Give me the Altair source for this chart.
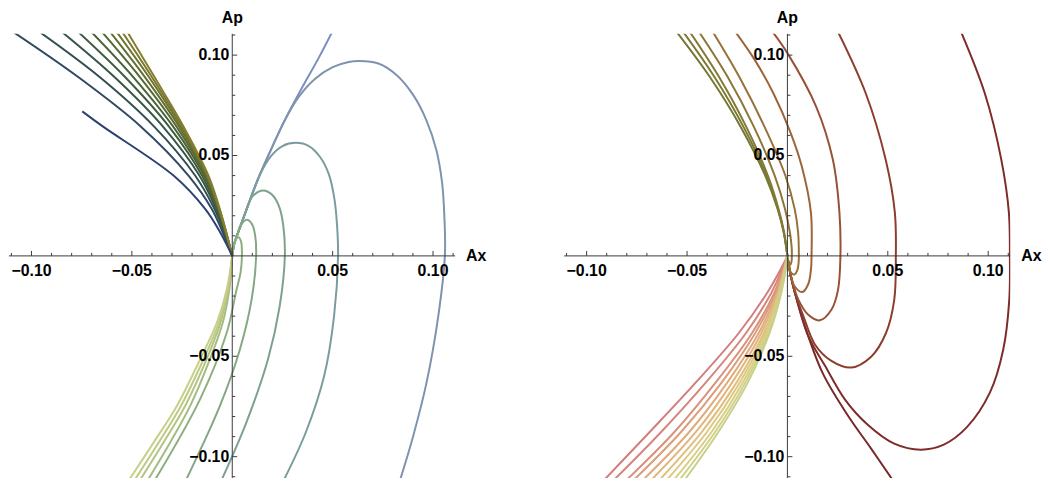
import altair as alt
import pandas as pd

XMIN, XMAX = -0.1112, 0.1110
YMIN, YMAX = -0.1106, 0.1106

# ---------------- LEFT PANEL ----------------
# upper-left family: Ax read at shared Ap levels
LU_AP = [0.112, 0.0892, 0.0645, 0.0399, 0.0234, 0.0119, 0.0]
LU_AX = [
    [-0.1098, -0.0769, -0.0456, -0.0217, -0.0102, -0.0048, 0.0],
    [-0.0966, -0.0662, -0.0390, -0.0184, -0.0089, -0.0041, 0.0],
    [-0.0854, -0.0588, -0.0346, -0.0163, -0.0081, -0.0038, 0.0],
    [-0.0772, -0.0535, -0.0316, -0.0150, -0.0076, -0.0036, 0.0],
    [-0.0706, -0.0494, -0.0295, -0.0140, -0.0072, -0.0034, 0.0],
    [-0.0653, -0.0461, -0.0278, -0.0133, -0.0069, -0.0033, 0.0],
    [-0.0612, -0.0436, -0.0265, -0.0128, -0.0067, -0.0033, 0.0],
    [-0.0579, -0.0416, -0.0257, -0.0125, -0.0066, -0.0031, 0.0],
    [-0.0551, -0.0401, -0.0250, -0.0122, -0.0064, -0.0031, 0.0],
    [-0.0525, -0.0388, -0.0243, -0.0118, -0.0062, -0.0030, 0.0],
]
C1_AX = [-0.0747, -0.0645, -0.0291, -0.0135, -0.0061, 0.0]
C1_AP = [0.0720, 0.0645, 0.0399, 0.0234, 0.0119, 0.0]

# lower-left family (yellow)
LL_AP = [-0.1116, -0.0927, -0.0746, -0.0532, -0.0334, -0.0170, 0.0]
LL_AX = [
    [-0.0420, -0.0308, -0.0209, -0.0118, -0.0048, -0.0015, 0.0],
    [-0.0459, -0.0341, -0.0234, -0.0135, -0.0059, -0.0020, 0.0],
    [-0.0486, -0.0365, -0.0255, -0.0151, -0.0067, -0.0023, 0.0],
    [-0.0514, -0.0390, -0.0275, -0.0168, -0.0077, -0.0028, 0.0],
]

# loops of the left panel
L0_AX = [0.0, 0.0010, 0.0036, 0.0078, 0.0135, 0.0201, 0.0267, 0.0355, 0.0430, 0.0500]
L0_AP = [0.0, 0.0060, 0.0135, 0.0250, 0.0399, 0.0547, 0.0687, 0.0851, 0.0985, 0.1120]
L1_AX = [0.0, 0.0010, 0.0036, 0.0078, 0.0135, 0.0201, 0.0259, 0.0330, 0.0410, 0.0500, 0.0580, 0.0634,
         0.0728, 0.0818, 0.0901, 0.0966, 0.1016, 0.1045, 0.1057, 0.1059, 0.1026, 0.0968, 0.0902, 0.0836]
L1_AP = [0.0, 0.0060, 0.0135, 0.0250, 0.0399, 0.0547, 0.0670, 0.0790, 0.0880, 0.0940, 0.0966, 0.0971,
         0.0958, 0.0901, 0.0802, 0.0678, 0.0530, 0.0366, 0.0185, 0.0, -0.0301, -0.0630, -0.0894, -0.1116]
L2_AX = [0.0, 0.0010, 0.0036, 0.0078, 0.0135, 0.0193, 0.0250, 0.0316, 0.0382, 0.0440, 0.0481,
         0.0509, 0.0522, 0.0527, 0.0507, 0.0458, 0.0367, 0.0257]
L2_AP = [0.0, 0.0060, 0.0135, 0.0250, 0.0399, 0.0497, 0.0547, 0.0563, 0.0547, 0.0489, 0.0407,
         0.0283, 0.0152, 0.0, -0.0301, -0.0597, -0.0877, -0.1116]
L3_AX = [0.0, 0.0010, 0.0036, 0.0068, 0.0100, 0.0155, 0.0201, 0.0234, 0.0254, 0.0262,
         0.0236, 0.0178, 0.0071, -0.0053]
L3_AP = [0.0, 0.0060, 0.0135, 0.0222, 0.0295, 0.0326, 0.0302, 0.0244, 0.0152, 0.0,
         -0.0252, -0.0515, -0.0828, -0.1116]
L4_AX = [0.0, 0.0010, 0.0022, 0.0040, 0.0073, 0.0099, 0.0114, 0.0119, 0.0096, 0.0038, -0.0061, -0.0230]
L4_AP = [0.0, 0.0060, 0.0095, 0.0150, 0.0180, 0.0157, 0.0102, 0.0, -0.0219, -0.0466, -0.0746, -0.1116]
L5_AX = [0.0, 0.0010, 0.0020, 0.0032, 0.0043, 0.0048, 0.0042, 0.0021, -0.0028, -0.0160, -0.0385]
L5_AP = [0.0, 0.0060, 0.0085, 0.0093, 0.0075, 0.0030, -0.0080, -0.0170, -0.0384, -0.0713, -0.1116]

# ---------------- RIGHT PANEL ----------------
RU_AP = [0.112, 0.0892, 0.0645, 0.0399, 0.0234, 0.0119, 0.0]
RU_AX = [
    [-0.0555, -0.0387, -0.0234, -0.0110, -0.0049, -0.0019, 0.0],
    [-0.0522, -0.0364, -0.0220, -0.0104, -0.0047, -0.0018, 0.0],
    [-0.0489, -0.0341, -0.0206, -0.0097, -0.0044, -0.0017, 0.0],
]
RL_AP = [-0.1116, -0.0877, -0.0630, -0.0384, -0.0186, -0.0071, 0.0]
RL_AX = [
    [-0.0913, -0.0686, -0.0456, -0.0242, -0.0102, -0.0036, 0.0],
    [-0.0864, -0.0629, -0.0406, -0.0206, -0.0081, -0.0028, 0.0],
    [-0.0801, -0.0563, -0.0357, -0.0176, -0.0066, -0.0023, 0.0],
    [-0.0765, -0.0530, -0.0327, -0.0160, -0.0059, -0.0020, 0.0],
    [-0.0719, -0.0489, -0.0299, -0.0143, -0.0053, -0.0018, 0.0],
    [-0.0678, -0.0456, -0.0275, -0.0130, -0.0048, -0.0016, 0.0],
    [-0.0637, -0.0426, -0.0253, -0.0118, -0.0043, -0.0015, 0.0],
    [-0.0601, -0.0401, -0.0237, -0.0110, -0.0039, -0.0013, 0.0],
    [-0.0566, -0.0378, -0.0222, -0.0102, -0.0036, -0.0011, 0.0],
    [-0.0538, -0.0360, -0.0209, -0.0095, -0.0033, -0.0010, 0.0],
    [-0.0512, -0.0344, -0.0197, -0.0089, -0.0031, -0.0010, 0.0],
]
R0_AX = [0.0, 0.0015, 0.0038, 0.0104, 0.0178, 0.0301, 0.0417, 0.0524]
R0_AP = [0.0, -0.0090, -0.0186, -0.0400, -0.0589, -0.0795, -0.0960, -0.1116]
R1_AX = [0.0, 0.0015, 0.0038, 0.0104, 0.0186, 0.0285, 0.0400, 0.0532, 0.0664, 0.0779, 0.0894,
         0.1009, 0.1075, 0.1105, 0.1108, 0.1103, 0.1065, 0.0983, 0.0863]
R1_AP = [0.0, -0.0090, -0.0186, -0.0400, -0.0545, -0.0713, -0.0841, -0.0935, -0.0965, -0.0940, -0.0853,
         -0.0680, -0.0466, -0.0219, 0.0, 0.0217, 0.0481, 0.0810, 0.1120]
R2_AX = [0.0, 0.0015, 0.0038, 0.0079, 0.0137, 0.0219, 0.0318, 0.0417, 0.0491, 0.0532, 0.0540,
         0.0535, 0.0489, 0.0390, 0.0250]
R2_AP = [0.0, -0.0090, -0.0186, -0.0298, -0.0441, -0.0523, -0.0556, -0.0502, -0.0384, -0.0219, 0.0,
         0.0217, 0.0481, 0.0810, 0.1120]
R3_AX = [0.0, 0.0015, 0.0055, 0.0104, 0.0161, 0.0219, 0.0252, 0.0264, 0.0259, 0.0226, 0.0143, 0.0, -0.0077]
R3_AP = [0.0, -0.0090, -0.0219, -0.0293, -0.0321, -0.0268, -0.0169, 0.0, 0.0217, 0.0481, 0.0744, 0.1010, 0.1120]
R4_AX = [0.0, 0.0012, 0.0035, 0.0074, 0.0104, 0.0118, 0.0120, 0.0117, 0.0071, 0.0016, -0.0070, -0.0162, -0.0262]
R4_AP = [0.0, -0.0072, -0.0150, -0.0180, -0.0140, -0.0060, 0.0, 0.0217, 0.0448, 0.0613, 0.0810, 0.0975, 0.1120]
R5_AX = [0.0, 0.0008, 0.0022, 0.0036, 0.0050, 0.0056, 0.0057, 0.0053, 0.0036, -0.0010, -0.0115, -0.0240, -0.0374]
R5_AP = [0.0, -0.0060, -0.0088, -0.0092, -0.0070, -0.0030, 0.0, 0.0119, 0.0234, 0.0399, 0.0645, 0.0892, 0.1120]
R6_AX = [0.0, 0.0005, 0.0013, 0.0020, 0.0022, 0.0021, 0.0012, -0.0012, -0.0063, -0.0168, -0.0298, -0.0443]
R6_AP = [0.0, -0.0032, -0.0045, -0.0030, 0.0, 0.0045, 0.0119, 0.0234, 0.0399, 0.0645, 0.0892, 0.1120]

# ---------------- TICKS ----------------
MAJOR = [-0.10, -0.05, 0.05, 0.10]
MAJOR_LABELS = ["\u22120.10", "\u22120.05", "0.05", "0.10"]
MINOR = [-0.11, -0.09, -0.08, -0.07, -0.06, -0.04, -0.03, -0.02, -0.01,
         0.01, 0.02, 0.03, 0.04, 0.06, 0.07, 0.08, 0.09, 0.11]

# ---------------- COLOURS ----------------
LU_COLORS = ["#2f4a62", "#324f52", "#375646", "#3f5c3e", "#4a6238", "#566834",
             "#626e31", "#6e7430", "#7a792f", "#857e30"]
C1_COLOR = "#2d4272"
LL_COLORS = ["#a3bc80", "#b2c482", "#bec983", "#c8cf86"]
LOOP_L_COLORS = ["#7c8ec0", "#7d93ae", "#7a9c9c", "#7da18c", "#85a784", "#8eae80"]
RU_COLORS = ["#747832", "#7c7933", "#847934"]
RL_COLORS = ["#d27c7c", "#d5857b", "#d9917b", "#dc9d7b", "#dfaa7c", "#e0b67e",
             "#e0c080", "#ddc882", "#d8ce84", "#d0d087", "#c6d089"]
LOOP_R_COLORS = ["#7a2727", "#7f2b29", "#8c3d2e", "#975236", "#9c6438", "#977138", "#8d7636"]

FONT = "Liberation Sans"


def add(rows, name, color, xs, ys):
    for i, (a, b) in enumerate(zip(xs, ys)):
        rows.append({"curve": name, "col": color, "i": i, "ax": a, "ap": b})


left_rows = []
for k, xs in enumerate(LL_AX):
    add(left_rows, f"LL{k}", LL_COLORS[k], xs, LL_AP)
loops_l = [(L0_AX, L0_AP), (L1_AX, L1_AP), (L2_AX, L2_AP), (L3_AX, L3_AP), (L4_AX, L4_AP), (L5_AX, L5_AP)]
for k, (xs, ys) in enumerate(loops_l):
    add(left_rows, f"LO{k}", LOOP_L_COLORS[k], xs, ys)
for k, xs in enumerate(LU_AX):
    add(left_rows, f"LU{k}", LU_COLORS[k], xs, LU_AP)
add(left_rows, "LC1", C1_COLOR, C1_AX, C1_AP)

right_rows = []
for k, xs in enumerate(RU_AX):
    add(right_rows, f"RU{k}", RU_COLORS[k], xs, RU_AP)
loops_r = [(R0_AX, R0_AP), (R1_AX, R1_AP), (R2_AX, R2_AP), (R3_AX, R3_AP), (R4_AX, R4_AP),
           (R5_AX, R5_AP), (R6_AX, R6_AP)]
for k, (xs, ys) in enumerate(loops_r):
    add(right_rows, f"RO{k}", LOOP_R_COLORS[k], xs, ys)
for k, xs in enumerate(RL_AX):
    add(right_rows, f"RL{k}", RL_COLORS[k], xs, RL_AP)

xsc = alt.Scale(domain=[XMIN, XMAX], nice=False, zero=False)
ysc = alt.Scale(domain=[YMIN, YMAX], nice=False, zero=False)

major_df = pd.DataFrame({"v": MAJOR, "t": MAJOR_LABELS, "z": 0.0})
minor_df = pd.DataFrame({"v": MINOR, "z": 0.0})
xaxis_df = pd.DataFrame({"a": [XMIN], "b": [XMAX], "z": [0.0]})
yaxis_df = pd.DataFrame({"a": [YMIN], "b": [YMAX], "z": [0.0]})
xtitle_df = pd.DataFrame({"x": [XMAX], "y": [0.0], "t": ["Ax"]})
ytitle_df = pd.DataFrame({"x": [0.0], "y": [YMAX], "t": ["Ap"]})

AXC = "#3a3a3a"


def X(f):
    return alt.X(f, scale=xsc, axis=None)


def Y(f):
    return alt.Y(f, scale=ysc, axis=None)


def panel(rows):
    df = pd.DataFrame(rows)
    lines = alt.Chart(df).mark_line(clip=True, strokeWidth=2, interpolate="catmull-rom").encode(
        x=X("ax:Q"), y=Y("ap:Q"), color=alt.Color("col:N", scale=None),
        detail="curve:N", order="i:Q")
    xaxis = alt.Chart(xaxis_df).mark_rule(color=AXC, strokeWidth=1).encode(
        x=X("a:Q"), x2="b:Q", y=Y("z:Q"))
    yaxis = alt.Chart(yaxis_df).mark_rule(color=AXC, strokeWidth=1).encode(
        y=Y("a:Q"), y2="b:Q", x=X("z:Q"))
    xmaj = alt.Chart(major_df).mark_rule(color=AXC, y2Offset=-5).encode(
        x=X("v:Q"), y=Y("z:Q"), y2="z:Q")
    xmin_ = alt.Chart(minor_df).mark_rule(color=AXC, y2Offset=-3).encode(
        x=X("v:Q"), y=Y("z:Q"), y2="z:Q")
    ymaj = alt.Chart(major_df).mark_rule(color=AXC, x2Offset=5).encode(
        y=Y("v:Q"), x=X("z:Q"), x2="z:Q")
    ymin_ = alt.Chart(minor_df).mark_rule(color=AXC, x2Offset=3).encode(
        y=Y("v:Q"), x=X("z:Q"), x2="z:Q")
    txt = dict(font=FONT, fontSize=16, fontWeight="bold", color="black")
    xlab = alt.Chart(major_df).mark_text(dy=20, align="center", baseline="alphabetic", **txt).encode(
        x=X("v:Q"), y=Y("z:Q"), text="t:N")
    ylab = alt.Chart(major_df).mark_text(dx=-3, align="right", baseline="middle", **txt).encode(
        y=Y("v:Q"), x=X("z:Q"), text="t:N")
    xt = alt.Chart(xtitle_df).mark_text(dx=11, align="left", baseline="middle", **txt).encode(
        x=X("x:Q"), y=Y("y:Q"), text="t:N")
    yt = alt.Chart(ytitle_df).mark_text(dy=-11, align="center", baseline="alphabetic", **txt).encode(
        x=X("x:Q"), y=Y("y:Q"), text="t:N")
    return alt.layer(lines, xaxis, yaxis, xmaj, xmin_, ymaj, ymin_, xlab, ylab, xt, yt).properties(
        width=450, height=448)


chart = alt.hconcat(panel(left_rows), panel(right_rows), spacing=110, bounds="flush").properties(
    padding=0
).configure_view(stroke=None).configure_axis(disable=True)

chart.save("out.html", embed_options={"renderer": "svg", "actions": False})
